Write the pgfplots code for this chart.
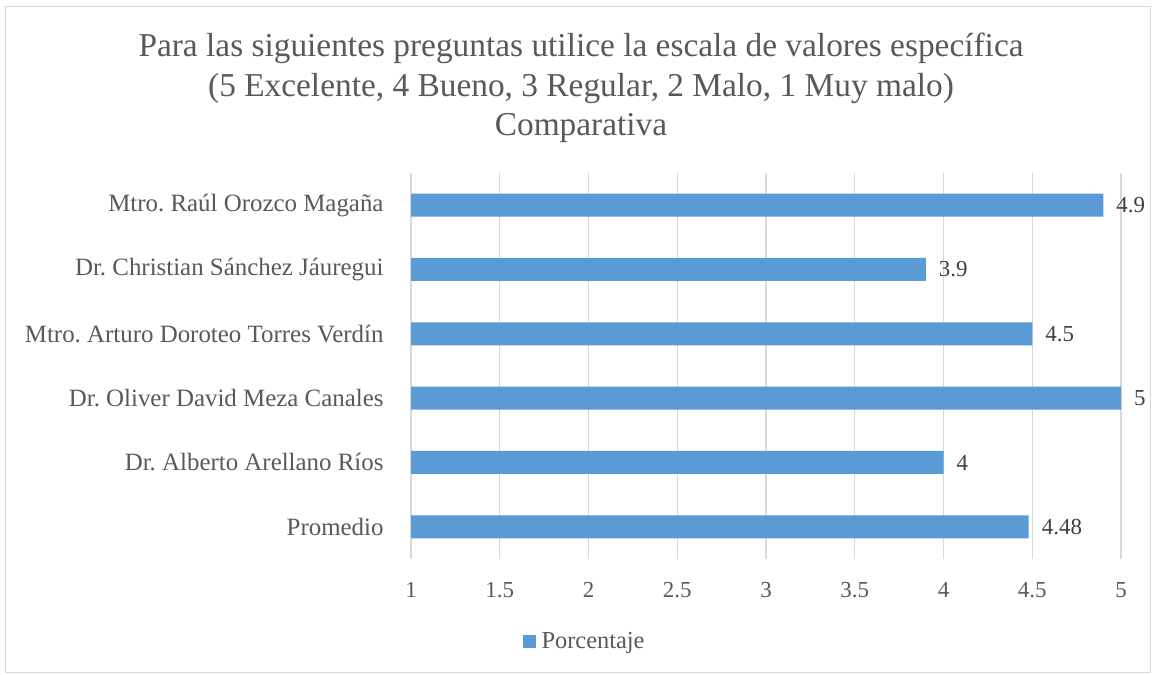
\documentclass[border=0pt]{standalone}
\usepackage{pgfplots}
\pgfplotsset{compat=1.18}
\usepackage{fontspec}
\setmainfont{Liberation Serif}
\frenchspacing
\definecolor{barc}{HTML}{5B9BD5}
\definecolor{txt}{HTML}{595959}
\definecolor{lbl}{HTML}{404040}
\definecolor{gridc}{HTML}{D9D9D9}
\begin{document}
\begin{tikzpicture}[x=1bp,y=1bp]
\fill[white] (0,0) rectangle (1153,675);
\draw[gridc, line width=1bp] (5,2) rectangle (1150,668);
\node[txt, align=center, font=\fontsize{33.5}{39.5}\selectfont] at (581,587) {Para las siguientes preguntas utilice la escala de valores específica\\(5 Excelente, 4 Bueno, 3 Regular, 2 Malo, 1 Muy malo)\\Comparativa};
\begin{axis}[at={(411bp,116bp)}, anchor=south west, scale only axis,
  width=710bp, height=386bp,
  xbar, xmin=1, xmax=5, ymin=-0.5, ymax=5.5, bar width=23bp,
  xtick={1,1.5,2,2.5,3,3.5,4,4.5,5},
  xticklabels={1,1.5,2,2.5,3,3.5,4,4.5,5},
  ytick={0,1,2,3,4,5},
  yticklabels={Promedio, Dr. Alberto Arellano Ríos, Dr. Oliver David Meza Canales, Mtro. Arturo Doroteo Torres Verdín, Dr. Christian Sánchez Jáuregui, Mtro. Raúl Orozco Magaña},
  axis line style={draw=none}, tick style={draw=none},
  xmajorgrids, grid style={gridc, line width=1.3bp},
  xticklabel style={font=\fontsize{23}{27}\selectfont, text=txt, inner sep=0pt, yshift=-23bp},
  yticklabel style={font=\fontsize{25}{29}\selectfont, text=txt, inner sep=0pt, xshift=-23bp},
  nodes near coords, point meta=explicit symbolic,
  every node near coord/.append style={font=\fontsize{23}{27}\selectfont, text=lbl, anchor=west, inner sep=0pt, xshift=13bp},
  legend style={at={(0.2444,-0.214)}, anchor=center, draw=none, fill=none, font=\fontsize{24.5}{28}\selectfont, text=txt, inner sep=0pt},
  legend image code/.code={\fill[#1] (0bp,-6.5bp) rectangle (13bp,6.5bp); \path (17bp,0bp);},
]
\addplot[fill=barc, draw=none] coordinates {(4.48,0)[4.48] (4,1)[4] (5,2)[5] (4.5,3)[4.5] (3.9,4)[3.9] (4.9,5)[4.9]};
\addlegendentry{Porcentaje}
\end{axis}
\end{tikzpicture}
\end{document}
